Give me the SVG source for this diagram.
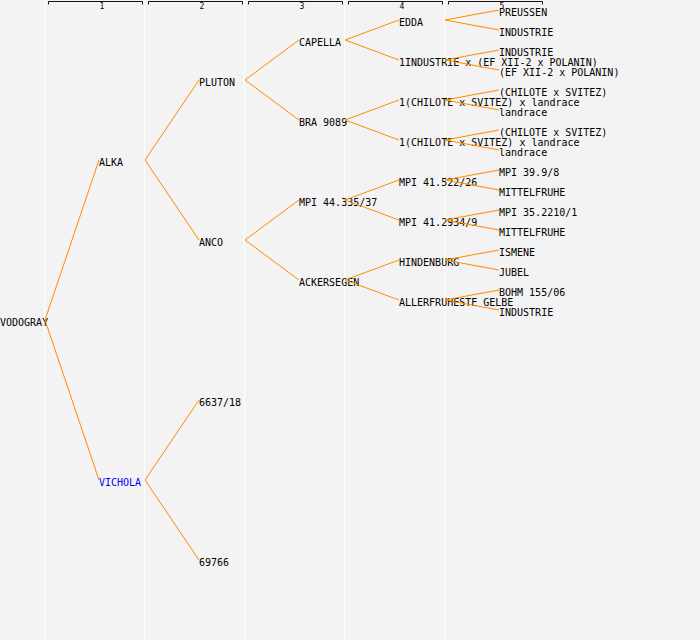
<svg xmlns="http://www.w3.org/2000/svg" width="700" height="640" viewBox="0 0 700 640">
<style>
.bg{fill:#f3f3f3}
.sep{fill:#ffffff}
.hdr{fill:none;stroke:#111;stroke-width:1}
.hl{font-family:"DejaVu Sans Mono","Liberation Mono",monospace;font-size:8px;fill:#000}
.t{font-family:"DejaVu Sans Mono","Liberation Mono",monospace;font-size:10px;fill:#000}
.blue{fill:#0000ff}
.c path{fill:none;stroke:#ff8c00;stroke-width:1}
</style>
<rect class="bg" x="0" y="0" width="700" height="640"/>
<g id="columns">
<rect class="sep" x="44" y="0" width="1" height="640"/>
<rect class="sep" x="144" y="0" width="1" height="640"/>
<rect class="sep" x="244" y="0" width="1" height="640"/>
<rect class="sep" x="344" y="0" width="1" height="640"/>
<rect class="sep" x="444" y="0" width="1" height="640"/>
</g>
<g id="header">
<path class="hdr" d="M48.5 4.5V1.5H142.5V4.5"/>
<path class="hdr" d="M148.5 4.5V1.5H242.5V4.5"/>
<path class="hdr" d="M248.5 4.5V1.5H342.5V4.5"/>
<path class="hdr" d="M348.5 4.5V1.5H442.5V4.5"/>
<path class="hdr" d="M448.5 4.5V1.5H542.5V4.5"/>
<text class="hl" x="99.5" y="9">1</text>
<text class="hl" x="199.5" y="9">2</text>
<text class="hl" x="299.5" y="9">3</text>
<text class="hl" x="399.5" y="9">4</text>
<text class="hl" x="499.5" y="9">5</text>
</g>
<g id="n-vodogray"><text class="t" x="0" y="326">VODOGRAY</text></g>
<g id="n-alka"><text class="t" x="99" y="166">ALKA</text></g>
<g id="n-vichola"><text class="t blue" x="99" y="486">VICHOLA</text></g>
<g id="n-pluton"><text class="t" x="199" y="86">PLUTON</text></g>
<g id="n-anco"><text class="t" x="199" y="246">ANCO</text></g>
<g id="n-6637"><text class="t" x="199" y="406">6637/18</text></g>
<g id="n-69766"><text class="t" x="199" y="566">69766</text></g>
<g id="n-capella"><text class="t" x="299" y="46">CAPELLA</text></g>
<g id="n-bra9089"><text class="t" x="299" y="126">BRA 9089</text></g>
<g id="n-mpi44"><text class="t" x="299" y="206">MPI 44.335/37</text></g>
<g id="n-ackersegen"><text class="t" x="299" y="286">ACKERSEGEN</text></g>
<g id="n-edda"><text class="t" x="399" y="26">EDDA</text></g>
<g id="n-1industrie"><text class="t" x="399" y="66">1INDUSTRIE x (EF XII-2 x POLANIN)</text></g>
<g id="n-chilote1"><text class="t" x="399" y="106">1(CHILOTE x SVITEZ) x landrace</text></g>
<g id="n-chilote2"><text class="t" x="399" y="146">1(CHILOTE x SVITEZ) x landrace</text></g>
<g id="n-mpi41a"><text class="t" x="399" y="186">MPI 41.522/26</text></g>
<g id="n-mpi41b"><text class="t" x="399" y="226">MPI 41.2934/9</text></g>
<g id="n-hindenburg"><text class="t" x="399" y="266">HINDENBURG</text></g>
<g id="n-allerfruheste"><text class="t" x="399" y="306">ALLERFRUHESTE GELBE</text></g>
<g id="n-preussen"><text class="t" x="499" y="16">PREUSSEN</text></g>
<g id="n-industrie1"><text class="t" x="499" y="36">INDUSTRIE</text></g>
<g id="n-industrie2"><text class="t" x="499" y="56">INDUSTRIE</text></g>
<g id="n-efxii"><text class="t" x="499" y="76">(EF XII-2 x POLANIN)</text></g>
<g id="n-chsv1"><text class="t" x="499" y="96">(CHILOTE x SVITEZ)</text></g>
<g id="n-landrace1"><text class="t" x="499" y="116">landrace</text></g>
<g id="n-chsv2"><text class="t" x="499" y="136">(CHILOTE x SVITEZ)</text></g>
<g id="n-landrace2"><text class="t" x="499" y="156">landrace</text></g>
<g id="n-mpi39"><text class="t" x="499" y="176">MPI 39.9/8</text></g>
<g id="n-mittel1"><text class="t" x="499" y="196">MITTELFRUHE</text></g>
<g id="n-mpi35"><text class="t" x="499" y="216">MPI 35.2210/1</text></g>
<g id="n-mittel2"><text class="t" x="499" y="236">MITTELFRUHE</text></g>
<g id="n-ismene"><text class="t" x="499" y="256">ISMENE</text></g>
<g id="n-jubel"><text class="t" x="499" y="276">JUBEL</text></g>
<g id="n-bohm"><text class="t" x="499" y="296">BOHM 155/06</text></g>
<g id="n-industrie3"><text class="t" x="499" y="316">INDUSTRIE</text></g>
<g id="connectors" class="c">
<path d="M99 160L45 320L99 480"/>
<path d="M199 80L145 160L199 240"/>
<path d="M199 400L145 480L199 560"/>
<path d="M299 40L245 80L299 120"/>
<path d="M299 200L245 240L299 280"/>
<path d="M399 20L345 40L399 60"/>
<path d="M399 100L345 120L399 140"/>
<path d="M399 180L345 200L399 220"/>
<path d="M399 260L345 280L399 300"/>
<path d="M499 10L445 20L499 30"/>
<path d="M499 50L445 60L499 70"/>
<path d="M499 90L445 100L499 110"/>
<path d="M499 130L445 140L499 150"/>
<path d="M499 170L445 180L499 190"/>
<path d="M499 210L445 220L499 230"/>
<path d="M499 250L445 260L499 270"/>
<path d="M499 290L445 300L499 310"/>
</g>
</svg>
